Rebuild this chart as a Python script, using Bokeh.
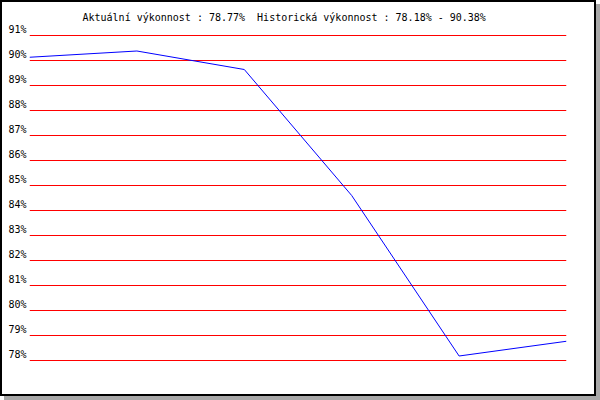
from bokeh.plotting import figure
from bokeh.models import Range1d, LinearAxis, FixedTicker, PrintfTickFormatter
from bokeh.embed import file_html
from bokeh.resources import INLINE

# ---- data ----
x_idx = [0, 1, 2, 3, 4, 5]
values = [90.13, 90.38, 89.64, 84.60, 78.18, 78.77]
tick_values = [78, 79, 80, 81, 82, 83, 84, 85, 86, 87, 88, 89, 90, 91]
title_text = "Aktuální výkonnost : 78.77%\u00a0 Historická výkonnost : 78.18% - 90.38%"

MONO = "DejaVu Sans Mono"
y_lo, y_hi = 77.0, 91.36
label_shift = 0.25

p = figure(width=592, height=392, output_backend="svg", toolbar_location=None,
           x_range=Range1d(0, 5), y_range=Range1d(y_lo, y_hi),
           min_border_left=27, min_border_right=28, min_border_top=24, min_border_bottom=9,
           background_fill_color="white", border_fill_color="white")
p.xaxis.visible = False
p.yaxis.visible = False
p.xgrid.visible = False
p.ygrid.ticker = FixedTicker(ticks=tick_values)
p.ygrid.grid_line_color = "#ff0000"
p.ygrid.grid_line_width = 1
p.outline_line_color = None
p.styles = {"margin": "2px",
            "box-shadow": "0px 0px 0px 2px #000000, 4px 4px 0px 2px #a8a8a8"}

p.extra_y_ranges = {"lab": Range1d(y_lo - label_shift, y_hi - label_shift)}
ax = LinearAxis(y_range_name="lab", ticker=FixedTicker(ticks=tick_values),
                formatter=PrintfTickFormatter(format="%d%%"))
ax.axis_line_color = None
ax.major_tick_line_color = None
ax.minor_tick_line_color = None
ax.major_tick_out = 0
ax.major_tick_in = 0
ax.major_label_standoff = 3
ax.major_label_text_font = MONO
ax.major_label_text_font_size = "10px"
ax.major_label_text_color = "black"
p.add_layout(ax, "left")

p.title.text = title_text
p.title.text_font = MONO
p.title.text_font_size = "10px"
p.title.text_font_style = "normal"
p.title.text_color = "black"
p.title.align = "left"
p.title.offset = 53
p.title.standoff = 7
p.title.vertical_align = "bottom"

p.line(x_idx, values, line_color="#0000ff", line_width=1)

open("out.html", "w").write(file_html(p, INLINE))
